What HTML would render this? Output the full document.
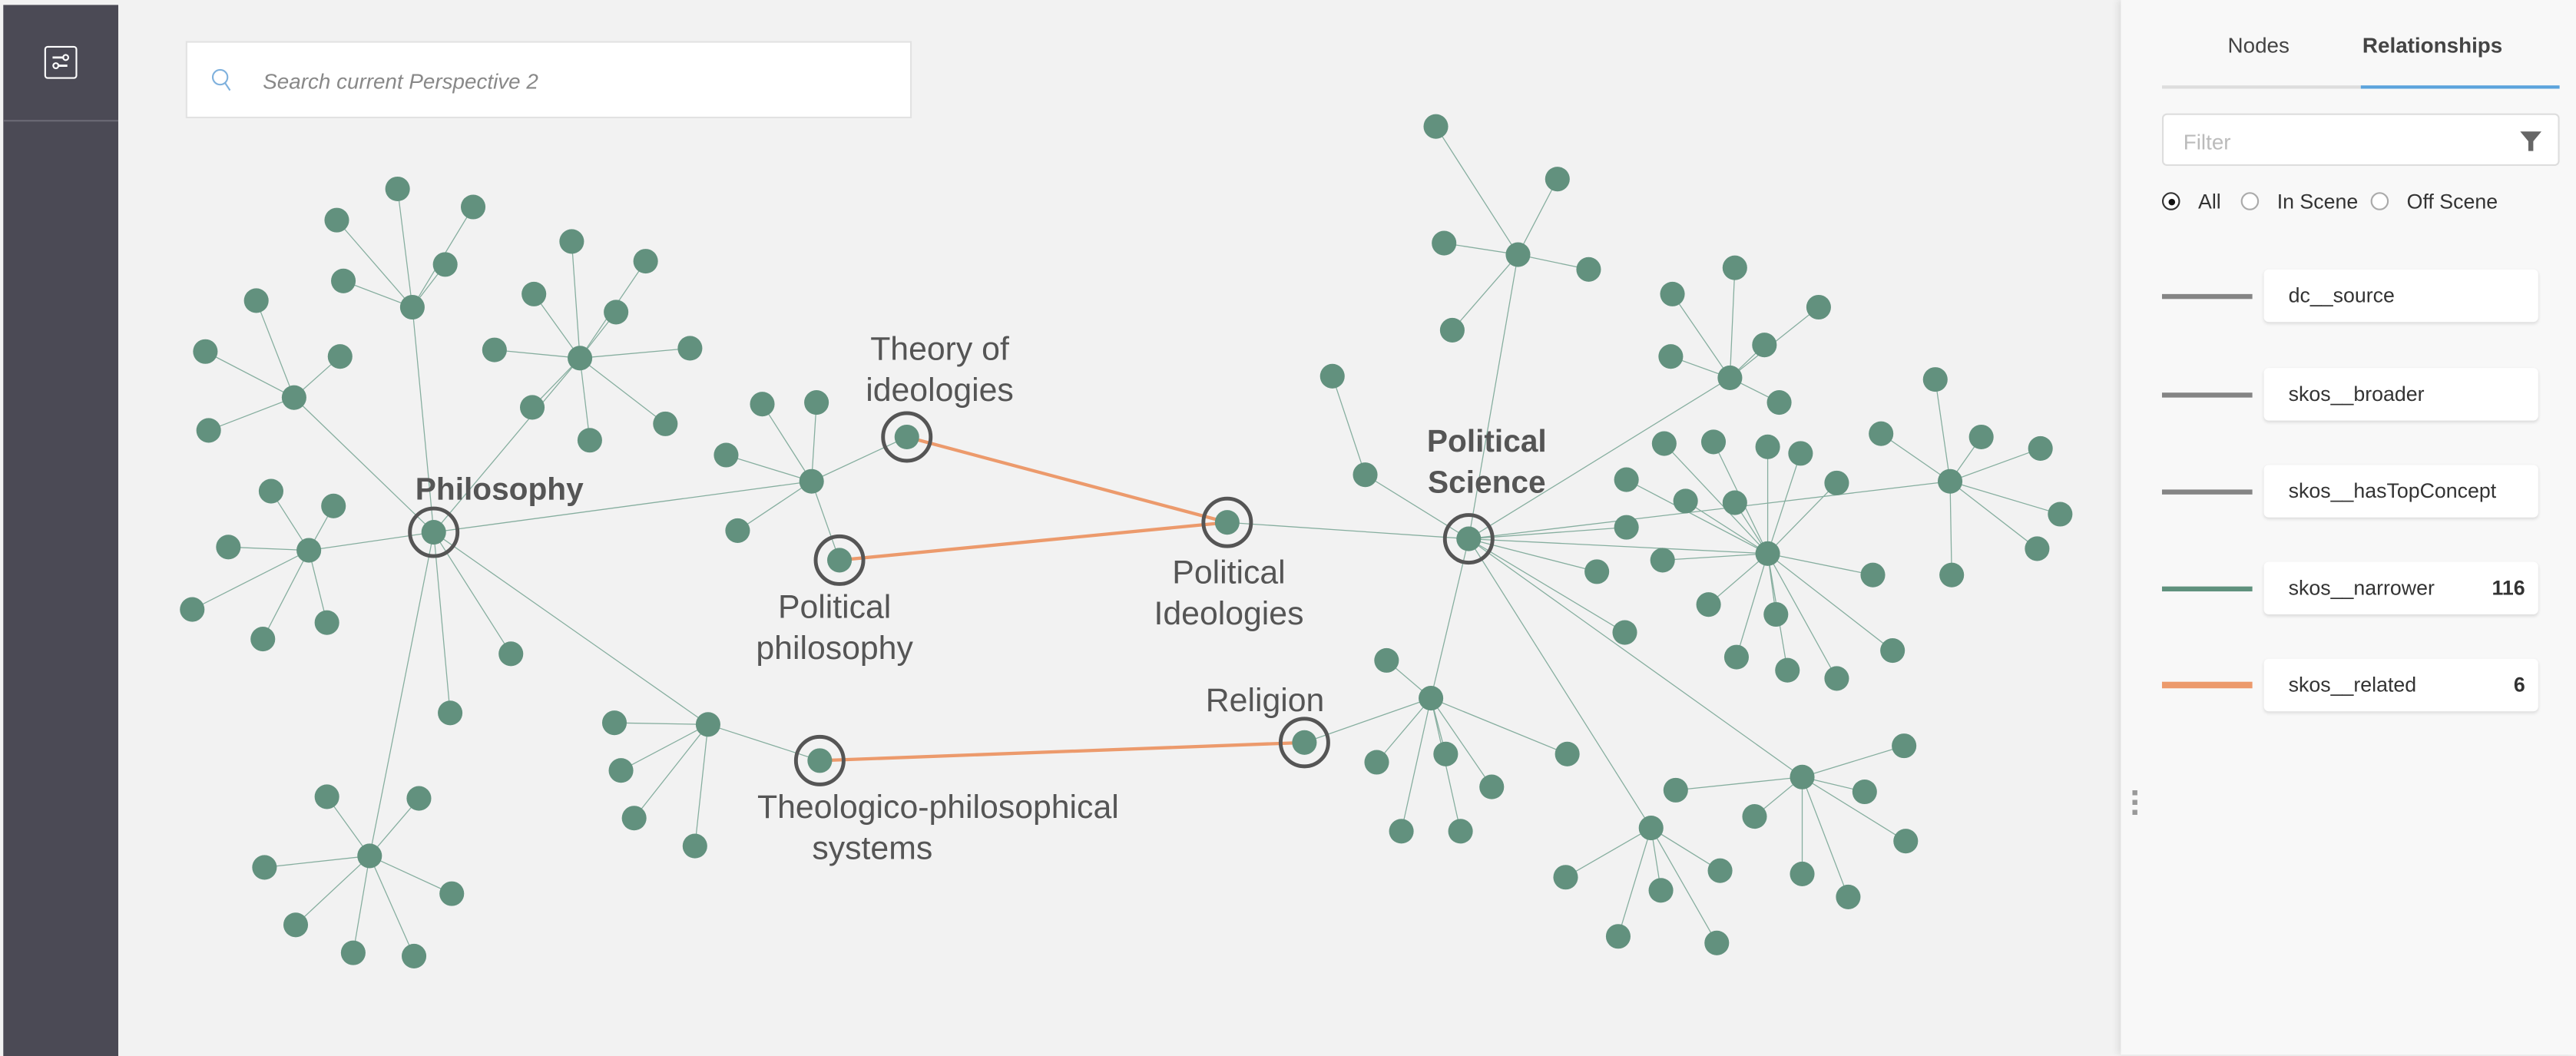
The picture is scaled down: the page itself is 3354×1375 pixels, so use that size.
<!DOCTYPE html>
<html><head><meta charset="utf-8"><style>
html,body{margin:0;padding:0;width:3354px;height:1374px;overflow:hidden;background:#f2f2f2;font-family:"Liberation Sans",sans-serif}
#w{position:absolute;left:0;top:0;width:1568px;height:642.4px;transform:scale(2.13903);transform-origin:0 0}
.side{position:absolute;left:2px;top:3px;width:70px;height:640px;background:#4b4a55}
.side .div{position:absolute;left:0;top:70px;width:70px;height:1px;background:#6b6a75}
.ico{position:absolute;left:25px;top:25px;width:20px;height:20px;border:1.5px solid #fff;border-radius:2px;box-sizing:border-box}
.search{position:absolute;left:113px;top:25px;width:442px;height:47px;background:#fff;border:1px solid #e2e2e2;box-sizing:border-box}
.search span{position:absolute;left:46px;top:16px;font-style:italic;font-size:13px;color:#888}
.panel{position:absolute;left:1291px;top:0;width:277px;height:642px;background:#f8f8f8;box-shadow:-2px 0 4px rgba(0,0,0,.08)}
.tab{position:absolute;top:20px;font-size:13px;color:#444}
.row{position:absolute;left:25px;width:230px;height:24px}
.row .ln{position:absolute;left:0;top:11px;width:55px;height:3px;background:#858585}
.row .bx{position:absolute;left:62px;top:-4px;width:167px;height:32px;background:#fff;border-radius:3px;box-shadow:0 1px 2px rgba(0,0,0,.12);font-size:12.5px;color:#333;line-height:32px;padding-left:15px;box-sizing:border-box}
.row .bx b{position:absolute;right:8px;top:0;font-size:12.5px}
.rad{position:absolute;top:117px;width:11px;height:11px;border:1px solid #aaa;border-radius:50%;box-sizing:border-box;background:#fff}
</style></head><body><div id="w">
<div class="side"><div class="ico"><svg width="17" height="17" viewBox="0 0 17 17" style="position:absolute;left:0;top:0"><line x1="4" y1="6" x2="11" y2="6" stroke="#fff" stroke-width="1.3"/><circle cx="12" cy="6" r="1.6" fill="none" stroke="#fff"/><line x1="7" y1="11" x2="13" y2="11" stroke="#fff" stroke-width="1.3"/><circle cx="6" cy="11" r="1.6" fill="none" stroke="#fff"/></svg></div><div class="div"></div></div>
<div class="search"><svg width="14" height="16" style="position:absolute;left:14px;top:15px"><circle cx="6" cy="6" r="4.5" fill="none" stroke="#7fb1dd" stroke-width="1"/><line x1="9" y1="9.5" x2="12" y2="14" stroke="#7fb1dd"/></svg><span>Search current Perspective 2</span></div>
<svg width="1290" height="642" style="position:absolute;left:0;top:0">
<g stroke="#86ae9f" stroke-width="0.6">
<!-- philosophy -->
<line x1="264" y1="324" x2="251" y2="187"/><line x1="251" y1="187" x2="242" y2="115"/><line x1="251" y1="187" x2="205" y2="134"/><line x1="251" y1="187" x2="209" y2="171"/><line x1="251" y1="187" x2="271" y2="161"/><line x1="251" y1="187" x2="288" y2="126"/>
<line x1="264" y1="324" x2="179" y2="242"/><line x1="179" y1="242" x2="156" y2="183"/><line x1="179" y1="242" x2="125" y2="214"/><line x1="179" y1="242" x2="127" y2="262"/><line x1="179" y1="242" x2="207" y2="217"/>
<line x1="264" y1="324" x2="188" y2="335"/><line x1="188" y1="335" x2="165" y2="299"/><line x1="188" y1="335" x2="203" y2="308"/><line x1="188" y1="335" x2="139" y2="333"/><line x1="188" y1="335" x2="117" y2="371"/><line x1="188" y1="335" x2="160" y2="389"/><line x1="188" y1="335" x2="199" y2="379"/>
<line x1="264" y1="324" x2="353" y2="218"/><line x1="353" y1="218" x2="348" y2="147"/><line x1="353" y1="218" x2="393" y2="159"/><line x1="353" y1="218" x2="325" y2="179"/><line x1="353" y1="218" x2="301" y2="213"/><line x1="353" y1="218" x2="420" y2="212"/><line x1="353" y1="218" x2="324" y2="248"/><line x1="353" y1="218" x2="359" y2="268"/><line x1="353" y1="218" x2="405" y2="258"/><line x1="353" y1="218" x2="375" y2="190"/>
<line x1="264" y1="324" x2="311" y2="398"/><line x1="264" y1="324" x2="274" y2="434"/>
<line x1="264" y1="324" x2="225" y2="521"/><line x1="225" y1="521" x2="199" y2="485"/><line x1="225" y1="521" x2="255" y2="486"/><line x1="225" y1="521" x2="161" y2="528"/><line x1="225" y1="521" x2="275" y2="544"/><line x1="225" y1="521" x2="180" y2="563"/><line x1="225" y1="521" x2="215" y2="580"/><line x1="225" y1="521" x2="252" y2="582"/>
<line x1="264" y1="324" x2="431" y2="441"/><line x1="431" y1="441" x2="374" y2="440"/><line x1="431" y1="441" x2="378" y2="469"/><line x1="431" y1="441" x2="386" y2="498"/><line x1="431" y1="441" x2="423" y2="515"/><line x1="431" y1="441" x2="499" y2="463"/>
<line x1="264" y1="324" x2="494" y2="293"/><line x1="494" y1="293" x2="464" y2="246"/><line x1="494" y1="293" x2="497" y2="245"/><line x1="494" y1="293" x2="442" y2="277"/><line x1="494" y1="293" x2="449" y2="323"/><line x1="494" y1="293" x2="511" y2="341"/><line x1="494" y1="293" x2="552" y2="266"/>
<!-- political science -->
<line x1="747" y1="318" x2="894" y2="328"/>
<line x1="894" y1="328" x2="924" y2="155"/><line x1="924" y1="155" x2="874" y2="77"/><line x1="924" y1="155" x2="948" y2="109"/><line x1="924" y1="155" x2="879" y2="148"/><line x1="924" y1="155" x2="967" y2="164"/><line x1="924" y1="155" x2="884" y2="201"/>
<line x1="894" y1="328" x2="831" y2="289"/><line x1="831" y1="289" x2="811" y2="229"/>
<line x1="894" y1="328" x2="1053" y2="230"/><line x1="1053" y1="230" x2="1018" y2="179"/><line x1="1053" y1="230" x2="1056" y2="163"/><line x1="1053" y1="230" x2="1017" y2="217"/><line x1="1053" y1="230" x2="1074" y2="210"/><line x1="1053" y1="230" x2="1107" y2="187"/><line x1="1053" y1="230" x2="1083" y2="245"/>
<line x1="894" y1="328" x2="1076" y2="337"/>
<line x1="1076" y1="337" x2="1013" y2="270"/><line x1="1076" y1="337" x2="1043" y2="269"/><line x1="1076" y1="337" x2="1076" y2="272"/><line x1="1076" y1="337" x2="1096" y2="276"/><line x1="1076" y1="337" x2="1026" y2="305"/><line x1="1076" y1="337" x2="1056" y2="306"/><line x1="1076" y1="337" x2="1118" y2="294"/><line x1="1076" y1="337" x2="1040" y2="368"/><line x1="1076" y1="337" x2="1057" y2="400"/><line x1="1076" y1="337" x2="1088" y2="408"/><line x1="1076" y1="337" x2="1118" y2="413"/><line x1="1076" y1="337" x2="1081" y2="374"/><line x1="1076" y1="337" x2="1140" y2="350"/><line x1="1076" y1="337" x2="1152" y2="396"/><line x1="1076" y1="337" x2="1012" y2="341"/><line x1="1076" y1="337" x2="990" y2="292"/>
<line x1="894" y1="328" x2="990" y2="321"/><line x1="894" y1="328" x2="1187" y2="293"/>
<line x1="1187" y1="293" x2="1145" y2="264"/><line x1="1187" y1="293" x2="1178" y2="231"/><line x1="1187" y1="293" x2="1206" y2="266"/><line x1="1187" y1="293" x2="1242" y2="273"/><line x1="1187" y1="293" x2="1254" y2="313"/><line x1="1187" y1="293" x2="1240" y2="334"/><line x1="1187" y1="293" x2="1188" y2="350"/>
<line x1="894" y1="328" x2="972" y2="348"/><line x1="894" y1="328" x2="989" y2="385"/>
<line x1="894" y1="328" x2="1097" y2="473"/><line x1="1097" y1="473" x2="1159" y2="454"/><line x1="1097" y1="473" x2="1020" y2="481"/><line x1="1097" y1="473" x2="1135" y2="482"/><line x1="1097" y1="473" x2="1068" y2="497"/><line x1="1097" y1="473" x2="1097" y2="532"/><line x1="1097" y1="473" x2="1125" y2="546"/><line x1="1097" y1="473" x2="1160" y2="512"/>
<line x1="894" y1="328" x2="1005" y2="504"/><line x1="1005" y1="504" x2="953" y2="534"/><line x1="1005" y1="504" x2="1011" y2="542"/><line x1="1005" y1="504" x2="985" y2="570"/><line x1="1005" y1="504" x2="1045" y2="574"/><line x1="1005" y1="504" x2="1047" y2="530"/>
<line x1="894" y1="328" x2="871" y2="425"/><line x1="871" y1="425" x2="794" y2="452"/><line x1="871" y1="425" x2="844" y2="402"/><line x1="871" y1="425" x2="838" y2="464"/><line x1="871" y1="425" x2="853" y2="506"/><line x1="871" y1="425" x2="880" y2="459"/><line x1="871" y1="425" x2="889" y2="506"/><line x1="871" y1="425" x2="908" y2="479"/><line x1="871" y1="425" x2="954" y2="459"/>
</g>
<g stroke="#ec9a6c" stroke-width="2"><line x1="552" y1="266" x2="747" y2="318"/><line x1="511" y1="341" x2="747" y2="318"/><line x1="499" y1="463" x2="794" y2="452"/></g>
<g fill="#62917e">
<circle cx="264" cy="324" r="7.5"/><circle cx="251" cy="187" r="7.5"/><circle cx="242" cy="115" r="7.5"/><circle cx="205" cy="134" r="7.5"/><circle cx="209" cy="171" r="7.5"/><circle cx="271" cy="161" r="7.5"/><circle cx="288" cy="126" r="7.5"/>
<circle cx="179" cy="242" r="7.5"/><circle cx="156" cy="183" r="7.5"/><circle cx="125" cy="214" r="7.5"/><circle cx="127" cy="262" r="7.5"/><circle cx="207" cy="217" r="7.5"/>
<circle cx="188" cy="335" r="7.5"/><circle cx="165" cy="299" r="7.5"/><circle cx="203" cy="308" r="7.5"/><circle cx="139" cy="333" r="7.5"/><circle cx="117" cy="371" r="7.5"/><circle cx="160" cy="389" r="7.5"/><circle cx="199" cy="379" r="7.5"/>
<circle cx="353" cy="218" r="7.5"/><circle cx="348" cy="147" r="7.5"/><circle cx="393" cy="159" r="7.5"/><circle cx="325" cy="179" r="7.5"/><circle cx="301" cy="213" r="7.5"/><circle cx="420" cy="212" r="7.5"/><circle cx="324" cy="248" r="7.5"/><circle cx="359" cy="268" r="7.5"/><circle cx="405" cy="258" r="7.5"/><circle cx="375" cy="190" r="7.5"/>
<circle cx="311" cy="398" r="7.5"/><circle cx="274" cy="434" r="7.5"/>
<circle cx="225" cy="521" r="7.5"/><circle cx="199" cy="485" r="7.5"/><circle cx="255" cy="486" r="7.5"/><circle cx="161" cy="528" r="7.5"/><circle cx="275" cy="544" r="7.5"/><circle cx="180" cy="563" r="7.5"/><circle cx="215" cy="580" r="7.5"/><circle cx="252" cy="582" r="7.5"/>
<circle cx="431" cy="441" r="7.5"/><circle cx="374" cy="440" r="7.5"/><circle cx="378" cy="469" r="7.5"/><circle cx="386" cy="498" r="7.5"/><circle cx="423" cy="515" r="7.5"/><circle cx="499" cy="463" r="7.5"/>
<circle cx="494" cy="293" r="7.5"/><circle cx="464" cy="246" r="7.5"/><circle cx="497" cy="245" r="7.5"/><circle cx="442" cy="277" r="7.5"/><circle cx="449" cy="323" r="7.5"/><circle cx="511" cy="341" r="7.5"/><circle cx="552" cy="266" r="7.5"/>
<circle cx="747" cy="318" r="7.5"/><circle cx="894" cy="328" r="7.5"/>
<circle cx="924" cy="155" r="7.5"/><circle cx="874" cy="77" r="7.5"/><circle cx="948" cy="109" r="7.5"/><circle cx="879" cy="148" r="7.5"/><circle cx="967" cy="164" r="7.5"/><circle cx="884" cy="201" r="7.5"/>
<circle cx="831" cy="289" r="7.5"/><circle cx="811" cy="229" r="7.5"/>
<circle cx="1053" cy="230" r="7.5"/><circle cx="1018" cy="179" r="7.5"/><circle cx="1056" cy="163" r="7.5"/><circle cx="1017" cy="217" r="7.5"/><circle cx="1074" cy="210" r="7.5"/><circle cx="1107" cy="187" r="7.5"/><circle cx="1083" cy="245" r="7.5"/>
<circle cx="1076" cy="337" r="7.5"/><circle cx="1013" cy="270" r="7.5"/><circle cx="1043" cy="269" r="7.5"/><circle cx="1076" cy="272" r="7.5"/><circle cx="1096" cy="276" r="7.5"/><circle cx="1026" cy="305" r="7.5"/><circle cx="1056" cy="306" r="7.5"/><circle cx="1118" cy="294" r="7.5"/><circle cx="1040" cy="368" r="7.5"/><circle cx="1057" cy="400" r="7.5"/><circle cx="1088" cy="408" r="7.5"/><circle cx="1118" cy="413" r="7.5"/><circle cx="1081" cy="374" r="7.5"/><circle cx="1140" cy="350" r="7.5"/><circle cx="1152" cy="396" r="7.5"/><circle cx="1012" cy="341" r="7.5"/><circle cx="990" cy="292" r="7.5"/><circle cx="990" cy="321" r="7.5"/>
<circle cx="1187" cy="293" r="7.5"/><circle cx="1145" cy="264" r="7.5"/><circle cx="1178" cy="231" r="7.5"/><circle cx="1206" cy="266" r="7.5"/><circle cx="1242" cy="273" r="7.5"/><circle cx="1254" cy="313" r="7.5"/><circle cx="1240" cy="334" r="7.5"/><circle cx="1188" cy="350" r="7.5"/>
<circle cx="972" cy="348" r="7.5"/><circle cx="989" cy="385" r="7.5"/>
<circle cx="1097" cy="473" r="7.5"/><circle cx="1159" cy="454" r="7.5"/><circle cx="1020" cy="481" r="7.5"/><circle cx="1135" cy="482" r="7.5"/><circle cx="1068" cy="497" r="7.5"/><circle cx="1097" cy="532" r="7.5"/><circle cx="1125" cy="546" r="7.5"/><circle cx="1160" cy="512" r="7.5"/>
<circle cx="1005" cy="504" r="7.5"/><circle cx="953" cy="534" r="7.5"/><circle cx="1011" cy="542" r="7.5"/><circle cx="985" cy="570" r="7.5"/><circle cx="1045" cy="574" r="7.5"/><circle cx="1047" cy="530" r="7.5"/>
<circle cx="871" cy="425" r="7.5"/><circle cx="794" cy="452" r="7.5"/><circle cx="844" cy="402" r="7.5"/><circle cx="838" cy="464" r="7.5"/><circle cx="853" cy="506" r="7.5"/><circle cx="880" cy="459" r="7.5"/><circle cx="889" cy="506" r="7.5"/><circle cx="908" cy="479" r="7.5"/><circle cx="954" cy="459" r="7.5"/>
</g>
<g fill="none" stroke="#555" stroke-width="2.3">
<circle cx="264" cy="324" r="14.5"/><circle cx="552" cy="266" r="14.5"/><circle cx="511" cy="341" r="14.5"/><circle cx="499" cy="463" r="14.5"/><circle cx="747" cy="318" r="14.5"/><circle cx="894" cy="328" r="14.5"/><circle cx="794" cy="452" r="14.5"/>
</g>
<g fill="#555" font-size="20" text-anchor="middle" font-family="Liberation Sans, sans-serif">
<text x="304" y="304" font-weight="bold" font-size="19">Philosophy</text>
<text x="905" y="275" font-weight="bold" font-size="19">Political</text><text x="905" y="300" font-weight="bold" font-size="19">Science</text>
<text x="572" y="219">Theory of</text><text x="572" y="244">ideologies</text>
<text x="508" y="376">Political</text><text x="508" y="401">philosophy</text>
<text x="748" y="355">Political</text><text x="748" y="380">Ideologies</text>
<text x="770" y="433">Religion</text>
<text x="571" y="498">Theologico-philosophical</text><text x="531" y="523">systems</text>
</g>
</svg>
<div class="panel">
<div class="tab" style="left:65px">Nodes</div>
<div class="tab" style="left:147px;font-weight:bold">Relationships</div>
<div style="position:absolute;left:25px;top:52px;width:121px;height:1.5px;background:#ddd"></div>
<div style="position:absolute;left:146px;top:52px;width:121px;height:1.5px;background:#5ba3dc"></div>
<div style="position:absolute;left:25px;top:69px;width:242px;height:32px;background:#fff;border:1px solid #ddd;border-radius:3px;box-sizing:border-box"><span style="position:absolute;left:12px;top:9px;font-size:13px;color:#bbb">Filter</span><svg width="13" height="12" style="position:absolute;right:10px;top:10px"><path d="M0 0H13L8 6V12H5V6Z" fill="#666"/></svg></div>
<div class="rad" style="left:25px;border-color:#333"><div style="position:absolute;left:2.5px;top:2.5px;width:4px;height:4px;border-radius:50%;background:#111"></div></div>
<span style="position:absolute;left:47px;top:116px;font-size:12.5px;color:#333">All</span>
<div class="rad" style="left:73px"></div><span style="position:absolute;left:95px;top:116px;font-size:12.5px;color:#333">In Scene</span>
<div class="rad" style="left:152px"></div><span style="position:absolute;left:174px;top:116px;font-size:12.5px;color:#333">Off Scene</span>
<div class="row" style="top:168px"><div class="ln"></div><div class="bx">dc__source</div></div>
<div class="row" style="top:228px"><div class="ln"></div><div class="bx">skos__broader</div></div>
<div class="row" style="top:287px"><div class="ln"></div><div class="bx">skos__hasTopConcept</div></div>
<div class="row" style="top:346px"><div class="ln" style="background:#5f917d"></div><div class="bx">skos__narrower<b>116</b></div></div>
<div class="row" style="top:405px"><div class="ln" style="background:#ec9a6c;height:4px;top:10px"></div><div class="bx">skos__related<b>6</b></div></div>
<div style="position:absolute;left:7px;top:481px;width:3px;height:17px;background:repeating-linear-gradient(#999 0 3px,transparent 3px 6px)"></div>
</div>
</div></body></html>
